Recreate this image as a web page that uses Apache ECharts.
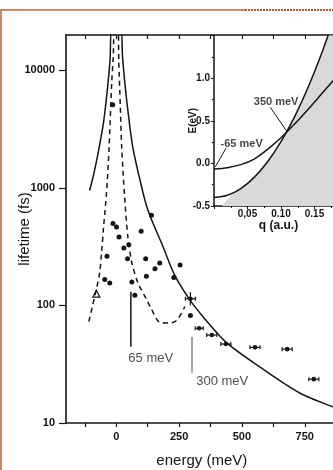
<!DOCTYPE html>
<html>
<head>
<meta charset="utf-8">
<script src="https://cdn.jsdelivr.net/npm/echarts@6.0.0/dist/echarts.min.js"></script>
<style>
  html, body {margin: 0; padding: 0; background: #fff;}
  #main {width: 333px; height: 470px;}
</style>
</head>
<body>
<div id="main"></div>
<script>
// main panel: lifetime (fs) vs energy (meV)
const theoryCurve = [[-106, 950], [-90, 1300], [-70, 2100], [-50, 3700], [-35, 7000], [-25, 12000], [-16, 24000],
  [16, 24000], [25, 13000], [35, 7500], [50, 3900], [66, 2200], [90, 1280], [125, 655], [185, 320], [233, 180],
  [292, 112], [350, 78], [440, 48], [571, 30], [730, 18], [862, 13.7], [1000, 10.4]];
const dashedCurve = [[-109, 73], [-95, 98], [-80, 135], [-66, 190], [-58, 290], [-50, 480], [-39, 900], [-29, 2100],
  [-18, 8000], [-12, 13000], [-6, 25000], [6, 25000], [10, 12000], [16, 5000], [22, 2130], [34, 800], [46, 385],
  [62, 231], [86, 156], [121, 112], [141, 92], [173, 72], [213, 71], [241, 75], [273, 98]];
const dots = [[140, 585], [-13, 497], [1, 466], [11, 383], [99, 427], [30, 308], [50, 329], [45, 250], [117, 250],
  [173, 230], [154, 205], [254, 221], [-37, 262], [120, 177], [229, 173], [-46, 166], [-26, 155], [62, 158],
  [74, 122], [295, 82], [-14, 5100]];
const openTriangles = [[-79, 126]];
// energy, lifetime, energy error, lifetime low, lifetime high (0 = none)
const errE = [295, 330, 380, 436, 552, 680, 786];
const errTau = [114, 64, 56, 47, 44, 42.5, 23.6];
const errDE = [20, 16, 20, 20, 20, 20, 20];
const errTauLo = [100, 0, 0, 0, 0, 0, 0];
const errTauHi = [130, 0, 0, 0, 0, 0, 0];
const line65 = [[58, 131], [58, 44.5]];
const arrow300 = [[302, 26.7], [302, 54]];
const mainNotes = ['65 meV', '300 meV'];
const mainNotePos = [[46, 35.2], [316, 22.4]];
const xTicks = [-125, 0, 125, 250, 375, 500, 625, 750, 875];
const xLabels = [0, 250, 500, 750];
const yMajor = [10, 100, 1000, 10000];
const yMinor = [20, 30, 40, 50, 60, 70, 80, 90, 200, 300, 400, 500, 600, 700, 800, 900,
  2000, 3000, 4000, 5000, 6000, 7000, 8000, 9000];

// inset: E (eV) vs q (a.u.)
const insetCurveA = [[0, -0.40], [0.02, -0.374], [0.04, -0.295], [0.06, -0.164], [0.08, 0.019], [0.10, 0.255],
  [0.12, 0.543], [0.14, 0.884], [0.16, 1.277], [0.18, 1.72]];
const insetCurveB = [[0, -0.065], [0.02, -0.05], [0.04, -0.015], [0.06, 0.05], [0.08, 0.165], [0.10, 0.3],
  [0.12, 0.46], [0.14, 0.63], [0.16, 0.81], [0.18, 0.99], [0.2, 1.18]];
const insetShade = [[0.012, -0.5], [0.03, -0.34], [0.04, -0.295], [0.06, -0.164], [0.08, 0.019], [0.10, 0.255],
  [0.12, 0.543], [0.14, 0.884], [0.16, 1.277], [0.18, 1.72]];
const pointer350 = [[0.084, 0.658], [0.109, 0.373]];
const pointer65 = [[0.018, 0.178], [0.002, -0.04]];
const insetNotes = ['350 meV', '-65 meV'];
const insetNotePos = [[0.0586, 0.716], [0.009, 0.225]];
const insetXLabels = {5: '0,05', 10: '0.10', 15: '0.15'};

const font = "'Liberation Sans', Arial, sans-serif";
const ink = '#151515';
const errData = errE.map((e, i) => [e, errTau[i], errDE[i], errTauLo[i], errTauHi[i]]);

const chart = echarts.init(document.getElementById('main'));
chart.setOption({
  animation: false,
  backgroundColor: '#fff',
  graphic: [
    {type: 'line', shape: {x1: 0, y1: 10, x2: 245, y2: 10}, style: {stroke: '#c98b66', lineWidth: 2}},
    {type: 'line', shape: {x1: 245, y1: 10, x2: 333, y2: 10}, style: {stroke: '#b8573a', lineWidth: 2, lineDash: [2, 1]}},
    {type: 'line', shape: {x1: 1, y1: 10, x2: 1, y2: 470}, style: {stroke: '#c98b66', lineWidth: 2}}
  ],
  grid: [
    {left: 66, top: 35, width: 301.6, height: 388, outerBoundsMode: 'none', containLabel: false},
    {
      left: 214, top: 35.5, width: 134, height: 170.5, outerBoundsMode: 'none', containLabel: false,
      show: true, backgroundColor: '#fff', borderWidth: 0
    }
  ],
  xAxis: [
    {
      gridIndex: 0, type: 'value', min: -200, max: 1000, position: 'bottom',
      axisLine: {onZero: false, lineStyle: {color: ink, width: 1.6}},
      axisTick: {customValues: xTicks, length: 4, lineStyle: {color: ink, width: 1.2}},
      axisLabel: {customValues: xLabels, margin: 8, color: ink, fontSize: 11, fontWeight: 'bold', fontFamily: font},
      splitLine: {show: false},
      name: 'energy (meV)', nameLocation: 'middle', nameGap: 30, nameMoveOverlap: false,
      nameTextStyle: {fontSize: 15, color: ink, fontFamily: font, padding: [0, 30, 0, 0]}
    },
    {
      gridIndex: 0, type: 'value', min: -200, max: 1000, position: 'top',
      axisLine: {onZero: false, lineStyle: {color: ink, width: 1.6}},
      axisTick: {customValues: xTicks, inside: true, length: 4, lineStyle: {color: ink, width: 1.2}},
      axisLabel: {show: false}, splitLine: {show: false}
    },
    {
      gridIndex: 1, type: 'value', min: 0, max: 0.2, interval: 0.05, position: 'bottom',
      axisLine: {onZero: false, lineStyle: {color: ink, width: 1.5}},
      axisTick: {length: 3, lineStyle: {color: ink}},
      minorTick: {show: true, splitNumber: 2, length: 2, lineStyle: {color: ink}},
      axisLabel: {
        margin: 3, color: ink, fontSize: 10, fontWeight: 'bold', fontFamily: font,
        formatter: v => insetXLabels[Math.round(v * 100)] || ''
      },
      splitLine: {show: false},
      name: 'q (a.u.)', nameLocation: 'middle', nameGap: 14, nameMoveOverlap: false,
      nameTextStyle: {fontSize: 12, fontWeight: 'bold', color: ink, fontFamily: font, padding: [0, 5, 0, 0]}
    }
  ],
  yAxis: [
    {
      gridIndex: 0, type: 'log', logBase: 10, min: 10, max: 20000,
      axisLine: {show: true, onZero: false, lineStyle: {color: ink, width: 1.6}},
      axisTick: {customValues: yMajor, length: 7, lineStyle: {color: ink, width: 1.2}},
      axisLabel: {
        customValues: yMajor, margin: 11, color: ink, fontSize: 11, fontWeight: 'bold', fontFamily: font,
        formatter: v => String(Math.round(v))
      },
      splitLine: {show: false},
      name: 'lifetime (fs)', nameLocation: 'middle', nameGap: 34, nameMoveOverlap: false,
      nameTextStyle: {fontSize: 15, color: ink, fontFamily: font}
    },
    {
      gridIndex: 0, type: 'log', logBase: 10, min: 10, max: 20000,
      axisLine: {show: false, onZero: false},
      axisTick: {customValues: yMinor, length: 4, lineStyle: {color: ink, width: 1.2}},
      axisLabel: {show: false}, splitLine: {show: false}
    },
    {
      gridIndex: 1, type: 'value', min: -0.5, max: 1.5, interval: 0.5,
      axisLine: {show: true, onZero: false, lineStyle: {color: ink, width: 1.5}},
      axisTick: {length: 3, lineStyle: {color: ink}},
      minorTick: {show: true, splitNumber: 2, length: 2, lineStyle: {color: ink}},
      axisLabel: {
        margin: 4, color: ink, fontSize: 10, fontWeight: 'bold', fontFamily: font, showMaxLabel: false,
        formatter: v => v.toFixed(1)
      },
      splitLine: {show: false},
      name: 'E(eV)', nameLocation: 'middle', nameGap: 16, nameMoveOverlap: false,
      nameTextStyle: {fontSize: 10, fontWeight: 'bold', color: ink, fontFamily: font}
    }
  ],
  series: [
    {
      type: 'line', xAxisIndex: 0, yAxisIndex: 0, data: theoryCurve, smooth: 0.3, showSymbol: false,
      lineStyle: {color: ink, width: 1.5}
    },
    {
      type: 'line', xAxisIndex: 0, yAxisIndex: 0, data: dashedCurve, smooth: 0.3, showSymbol: false,
      lineStyle: {color: ink, width: 1.5, type: [5, 4]}
    },
    {
      type: 'scatter', xAxisIndex: 0, yAxisIndex: 0, data: dots, symbolSize: 5,
      itemStyle: {color: ink, opacity: 1}
    },
    {
      type: 'scatter', xAxisIndex: 0, yAxisIndex: 0, data: openTriangles, symbol: 'triangle', symbolSize: 7,
      itemStyle: {color: '#fff', borderColor: ink, borderWidth: 1.2, opacity: 1}
    },
    {
      type: 'custom', xAxisIndex: 0, yAxisIndex: 0, data: errData,
      renderItem(params, api) {
        const e = api.value(0), t = api.value(1), de = api.value(2), lo = api.value(3), hi = api.value(4);
        const c = api.coord([e, t]);
        const l = api.coord([e - de, t]);
        const r = api.coord([e + de, t]);
        const st = {stroke: ink, lineWidth: 1.2};
        const children = [
          {type: 'line', shape: {x1: l[0], y1: l[1], x2: r[0], y2: r[1]}, style: st},
          {type: 'line', shape: {x1: l[0], y1: l[1] - 2, x2: l[0], y2: l[1] + 2}, style: st},
          {type: 'line', shape: {x1: r[0], y1: r[1] - 2, x2: r[0], y2: r[1] + 2}, style: st},
          {type: 'circle', shape: {cx: c[0], cy: c[1], r: 2.3}, style: {fill: ink}}
        ];
        if (lo > 0) {
          const b = api.coord([e, lo]), u = api.coord([e, hi]);
          children.push({type: 'line', shape: {x1: b[0], y1: b[1], x2: u[0], y2: u[1]}, style: st});
        }
        return {type: 'group', children};
      }
    },
    {
      type: 'line', xAxisIndex: 0, yAxisIndex: 0, data: line65, showSymbol: false,
      lineStyle: {color: ink, width: 1.5},
      markLine: {
        silent: true, symbol: ['none', 'arrow'], symbolSize: [0, 7],
        lineStyle: {color: '#8a8a8a', width: 1.5, type: 'solid'}, label: {show: false},
        data: [[{coord: arrow300[0]}, {coord: arrow300[1]}]]
      }
    },
    {
      type: 'scatter', xAxisIndex: 0, yAxisIndex: 0, symbolSize: 1, itemStyle: {color: 'transparent'},
      data: mainNotePos.map((p, i) => ({value: p, name: mainNotes[i]})),
      label: {
        show: true, position: 'right', distance: 0, formatter: p => p.name,
        fontSize: 13, fontFamily: font, color: '#222', verticalAlign: 'middle'
      }
    },
    {
      type: 'line', xAxisIndex: 2, yAxisIndex: 2, data: insetShade, showSymbol: false, smooth: 0.3,
      lineStyle: {width: 0}, areaStyle: {color: '#d9d9d9', opacity: 1, origin: 'start'}, z: 1
    },
    {
      type: 'line', xAxisIndex: 2, yAxisIndex: 2, data: insetCurveA, showSymbol: false, smooth: 0.3,
      lineStyle: {color: ink, width: 1.5}
    },
    {
      type: 'line', xAxisIndex: 2, yAxisIndex: 2, data: insetCurveB, showSymbol: false, smooth: 0.3,
      lineStyle: {color: ink, width: 1.5}
    },
    {
      type: 'line', xAxisIndex: 2, yAxisIndex: 2, data: pointer350, showSymbol: false,
      lineStyle: {color: ink, width: 1}
    },
    {
      type: 'line', xAxisIndex: 2, yAxisIndex: 2, data: pointer65, showSymbol: false,
      lineStyle: {color: ink, width: 1}
    },
    {
      type: 'scatter', xAxisIndex: 2, yAxisIndex: 2, symbolSize: 1, itemStyle: {color: 'transparent'},
      data: insetNotePos.map((p, i) => ({value: p, name: insetNotes[i]})),
      label: {
        show: true, position: 'right', distance: 0, formatter: p => p.name,
        fontSize: 11, fontWeight: 'bold', fontFamily: font, color: ink, verticalAlign: 'middle'
      }
    }
  ]
});
</script>
</body>
</html>
